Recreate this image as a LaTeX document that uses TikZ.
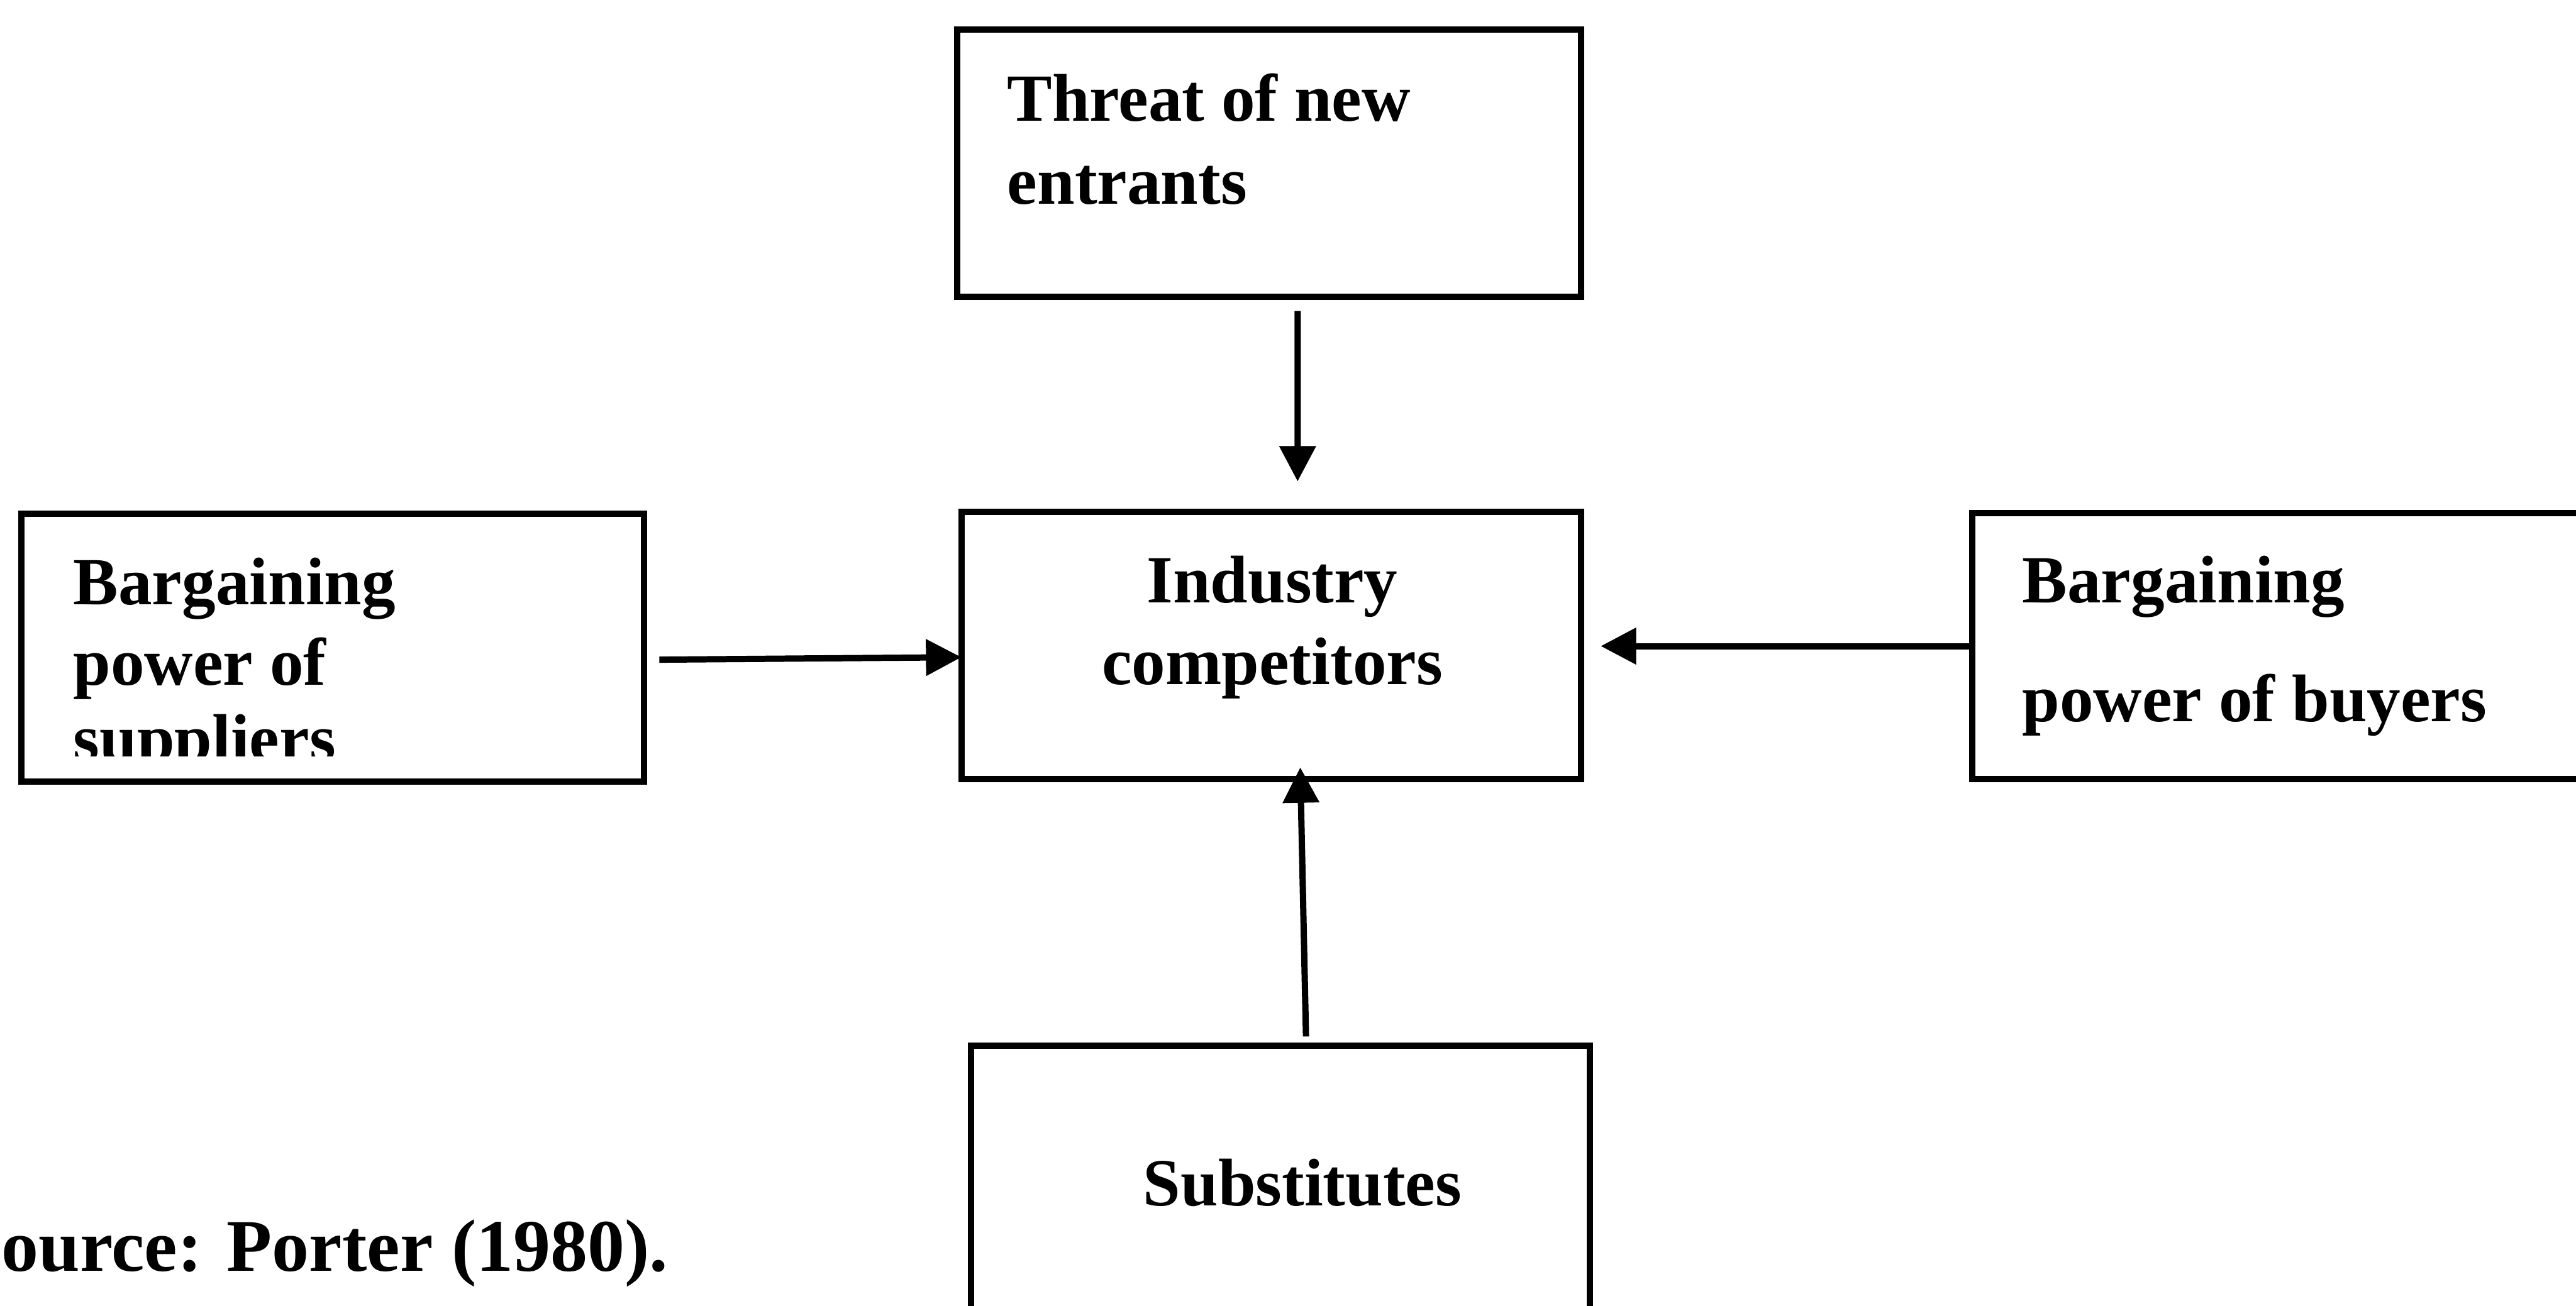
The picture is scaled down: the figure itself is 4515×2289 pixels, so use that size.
\documentclass[tikz,border=0pt]{standalone}
\usepackage{fontspec}
\setmainfont{Liberation Serif}
\usetikzlibrary{arrows.meta}
\begin{document}
\begin{tikzpicture}[x=0.01cm,y=-0.01cm,
  box/.style={draw, line width=0.11cm, rectangle, inner sep=0pt, outer sep=0pt, anchor=north west},
  lbl/.style={inner sep=0pt, anchor=base west, font=\fontsize{33.6}{40}\selectfont\bfseries},
  clbl/.style={lbl, anchor=base},
  arr/.style={line width=0.11cm, -{Triangle[length=0.62cm,width=0.62cm]}}]
\useasboundingbox (0,0) rectangle (4515,2289);
\clip (0,0) rectangle (4515,2289);
\fill[white] (0,0) rectangle (4515,2289);

% the five forces boxes
\node[box, minimum width=10.92cm, minimum height=4.68cm] (top) at (1678,52) {};
\node[box, minimum width=10.90cm, minimum height=4.69cm] (sup) at (38,901) {};
\node[box, minimum width=10.86cm, minimum height=4.68cm] (ind) at (1685,897) {};
\node[box, minimum width=10.90cm, minimum height=4.65cm] (buy) at (3457,900) {};
\node[box, minimum width=10.84cm, minimum height=4.68cm] (sub) at (1702,1833) {};

% box texts
\node[lbl] (t1) at (1765,212) {Threat of new};
\node[lbl] (t2) at (1765,358) {entrants};

\node[lbl] (s1) at (128,1060) {Bargaining};
\node[lbl] (s2) at (128,1201) {power of};
\begin{scope}
  % third line is cut off just above its baseline
  \clip (0,0) rectangle (4515,1326);
  \node[lbl] (s3) at (128,1334) {suppliers};
\end{scope}

\node[clbl] (i1) at (2230,1057) {Industry};
\node[clbl] (i2) at (2230,1200) {competitors};

\node[lbl] (b1) at (3544,1057) {Bargaining};
\node[lbl] (b2) at (3544,1265) {power of buyers};

\node[clbl] (u1) at (2283,2114) {Substitutes};

\node[inner sep=0pt, anchor=base west, font=\fontsize{37}{44}\selectfont\bfseries] (src) at (2,2228) {ource: Porter (1980).};

% connectors
\draw[arr, shorten <=0.25cm, shorten >=0.53cm] ([xshift=0.50cm]top.south) -- ([xshift=0.46cm]ind.north);
\draw[arr, shorten <=0.27cm] ([yshift=-0.21cm]sup.east) -- ([yshift=-0.21cm]ind.west);
\draw[arr, shorten >=0.34cm] (buy.west) -- (buy.west -| ind.east);
\draw[arr, shorten <=0.16cm, shorten >=-0.20cm] ([xshift=0.45cm]sub.north) -- ([xshift=0.51cm]ind.south);
\end{tikzpicture}
\end{document}
